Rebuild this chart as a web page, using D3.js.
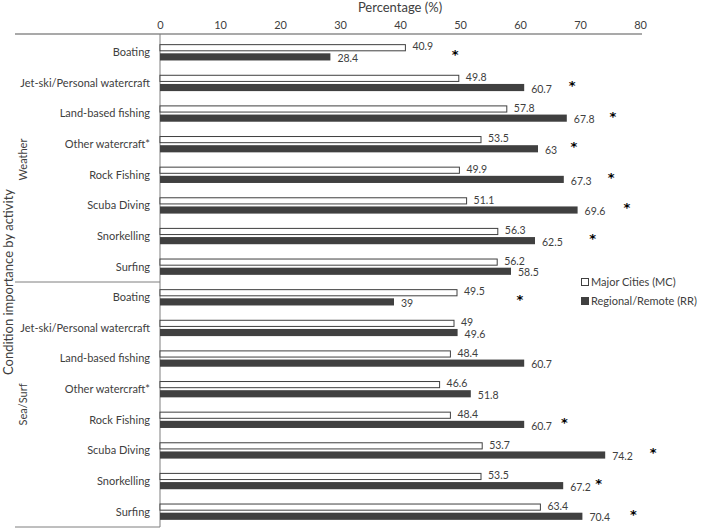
<!DOCTYPE html>
<html>
<head>
<meta charset="utf-8">
<script src="https://cdn.jsdelivr.net/npm/d3@7"></script>
<style>
  body { margin: 0; background: #fff; }
  text { font-family: Lato, "Open Sans", sans-serif; fill: #404040; }
</style>
</head>
<body>
<div id="chart"></div>
<script>
// data
const activities = ["Boating", "Jet-ski/Personal watercraft", "Land-based fishing", "Other watercraft*",
  "Rock Fishing", "Scuba Diving", "Snorkelling", "Surfing"];
const groups = ["Weather", "Sea/Surf"];
const weatherMC = [40.9, 49.8, 57.8, 53.5, 49.9, 51.1, 56.3, 56.2];
const weatherRR = [28.4, 60.7, 67.8, 63, 67.3, 69.6, 62.5, 58.5];
const seaMC = [49.5, 49, 48.4, 46.6, 48.4, 53.7, 53.5, 63.4];
const seaRR = [39, 49.6, 60.7, 51.8, 60.7, 74.2, 67.2, 70.4];
// where the significance asterisk sits, in % units (null = none)
const weatherStar = [49.2, 68.7, 75.5, 69.0, 75.2, 77.8, 72.1, null];
const seaStar = [60.0, null, null, null, 67.4, 82.2, 73.1, 78.9];
const xTicks = [0, 10, 20, 30, 40, 50, 60, 70, 80];
const seriesNames = ["Major Cities (MC)", "Regional/Remote (RR)"];

const chartWidth = 709, chartHeight = 528;
const plotLeft = 160, plotRight = 640, plotTop = 37, plotBottom = 527, outerLeft = 15;
const axisLineY = 34;
const darkFill = "#404040";

const rows = [];
groups.forEach((g, gi) => {
  const mc = gi === 0 ? weatherMC : seaMC;
  const rr = gi === 0 ? weatherRR : seaRR;
  const st = gi === 0 ? weatherStar : seaStar;
  activities.forEach((a, i) => {
    rows.push({ key: g + "|" + a, group: g, name: a, mc: mc[i], rr: rr[i], star: st[i] });
  });
});

const svg = d3.select("#chart").append("svg")
  .attr("width", chartWidth)
  .attr("height", chartHeight);

let x = d3.scaleLinear().domain([0, 80]).range([plotLeft, plotRight]);
let y = d3.scaleBand().domain(rows.map(d => d.key)).range([plotTop, plotBottom]);
let sub = d3.scaleBand().domain(["mc", "rr"]).range([0, y.bandwidth()])
  .paddingInner(0.22).paddingOuter(0.78);

// axis title
svg.append("text")
  .attr("x", (plotLeft + plotRight) / 2)
  .attr("y", 12)
  .attr("text-anchor", "middle")
  .style("font-size", "13px")
  .text("Percentage (%)");

// top axis labels
const xAxis = d3.axisTop(x).tickValues(xTicks).tickSize(0).tickPadding(0);
svg.append("g")
  .attr("class", "axis axis--x")
  .attr("transform", `translate(0, 29)`)
  .call(xAxis)
  .call(g => g.select(".domain").remove())
  .selectAll("text")
  .attr("dy", "0")
  .style("font-size", "11px")
  .style("font-family", "Lato, sans-serif")
  .attr("fill", "#404040");

// frame lines
svg.append("line")
  .attr("x1", outerLeft).attr("x2", plotRight + 2)
  .attr("y1", axisLineY).attr("y2", axisLineY)
  .attr("stroke", "#8c8c8c").attr("stroke-width", 1.5);
svg.append("line")
  .attr("x1", plotLeft).attr("x2", plotLeft)
  .attr("y1", axisLineY).attr("y2", plotBottom)
  .attr("stroke", "#7f7f7f").attr("stroke-width", 1);
const sepY = y(groups[1] + "|" + activities[0]);
[sepY, plotBottom].forEach(yy => {
  svg.append("line")
    .attr("x1", outerLeft).attr("x2", plotLeft)
    .attr("y1", yy).attr("y2", yy)
    .attr("stroke", "#7f7f7f").attr("stroke-width", 1);
});

// y title and group labels
svg.append("text")
  .attr("transform", `translate(13, ${(plotTop + plotBottom) / 2}) rotate(-90)`)
  .attr("text-anchor", "middle")
  .style("font-size", "13px")
  .text("Condition importance by activity");

groups.forEach(g => {
  const gr = rows.filter(d => d.group === g);
  const y0 = y(gr[0].key), y1 = y(gr[gr.length - 1].key) + y.bandwidth();
  svg.append("text")
    .attr("transform", `translate(27, ${(y0 + y1) / 2}) rotate(-90)`)
    .attr("text-anchor", "middle")
    .style("font-size", "11px")
    .text(g);
});

// rows
const row = svg.selectAll("g.row")
  .data(rows)
  .enter()
  .append("g")
  .attr("class", "row")
  .attr("transform", d => `translate(0, ${y(d.key)})`);

row.append("text")
  .attr("x", plotLeft - 10)
  .attr("y", y.bandwidth() / 2)
  .attr("dy", "0.35em")
  .attr("text-anchor", "end")
  .style("font-size", "11px")
  .text(d => d.name);

row.append("rect")
  .attr("x", x(0))
  .attr("y", sub("mc") + 0.5)
  .attr("width", d => x(d.mc) - x(0))
  .attr("height", sub.bandwidth() - 1)
  .attr("fill", "#fff")
  .attr("stroke", darkFill)
  .attr("stroke-width", 1);

row.append("rect")
  .attr("x", x(0))
  .attr("y", sub("rr"))
  .attr("width", d => x(d.rr) - x(0))
  .attr("height", sub.bandwidth())
  .attr("fill", darkFill);

row.append("text")
  .attr("x", d => x(d.mc) + 7)
  .attr("y", sub("mc") + sub.bandwidth() / 2 - 1)
  .attr("dy", "0.35em")
  .style("font-size", "10.5px")
  .text(d => d.mc);

row.append("text")
  .attr("x", d => x(d.rr) + 7)
  .attr("y", sub("rr") + sub.bandwidth() / 2 + 1.5)
  .attr("dy", "0.35em")
  .style("font-size", "10.5px")
  .text(d => d.rr);

row.filter(d => d.star != null)
  .append("text")
  .attr("x", d => x(d.star))
  .attr("y", y.bandwidth() / 2 + 7)
  .attr("text-anchor", "middle")
  .style("font-size", "13px")
  .style("font-weight", "bold")
  .style("font-family", "DejaVu Sans, sans-serif")
  .style("fill", "#000")
  .text("*");

// legend
const legend = svg.selectAll("g.legend")
  .data(seriesNames)
  .enter()
  .append("g")
  .attr("class", "legend")
  .attr("transform", (d, i) => `translate(581, ${282 + i * 19})`);

legend.append("rect")
  .attr("x", 0.5).attr("y", -3.5)
  .attr("width", 7).attr("height", 7)
  .attr("fill", (d, i) => i === 0 ? "#fff" : darkFill)
  .attr("stroke", darkFill);

legend.append("text")
  .attr("x", 10)
  .attr("dy", "0.35em")
  .style("font-size", "11px")
  .text(d => d);
</script>
</body>
</html>
